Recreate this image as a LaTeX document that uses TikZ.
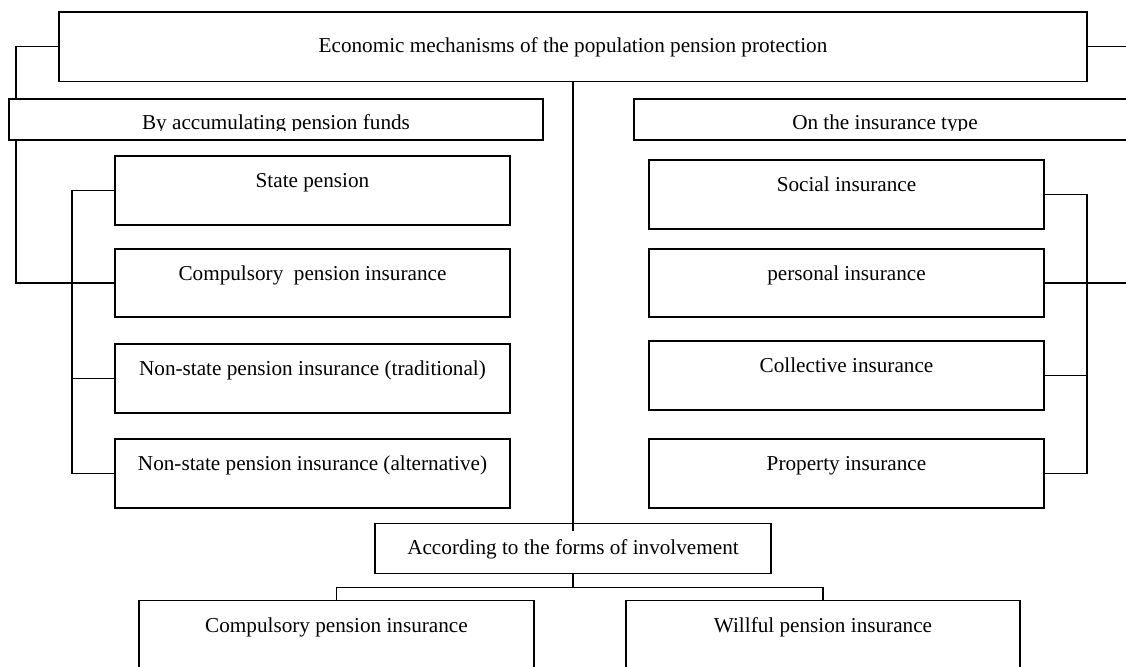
\documentclass[tikz,border=0pt]{standalone}
\usepackage{fontspec}
\setmainfont{Liberation Serif}
\newcommand{\lbfont}{\fontsize{21.2}{25}\selectfont}
\tikzset{
  boxst/.style={draw, line width=1.4pt, fill=white, inner sep=0pt, outer sep=0pt, rectangle},
  lbl/.style={anchor=base, inner sep=0pt, outer sep=0pt, font=\lbfont},
  conn/.style={line width=1.4pt}
}
% name, x1, y1, x2, y2
\newcommand{\mkbox}[5]{\node[boxst, minimum width={(#4-#2)*1pt}, minimum height={(#5-#3)*1pt}] (#1) at ({(#2+#4)/2},{(#3+#5)/2}) {};}
\begin{document}
\begin{tikzpicture}[x=1pt,y=-1pt]
\useasboundingbox (0,0) rectangle (1126,666);
\clip (0,0) rectangle (1126,666);
\fill[white] (0,0) rectangle (1126,666);

% helper coordinates
\coordinate (lx) at (16,0);
\coordinate (bx) at (72,0);
\coordinate (rx) at (1087,0);
\coordinate (redge) at (1132,0);
\coordinate (fy) at (0,587.3);
\coordinate (cend) at (573,531);

% top box
\mkbox{top}{59}{12}{1087}{81.5}
\node[lbl] (ttop) at (573,52.5) {Economic mechanisms of the population pension protection};

% long left connector (drawn before the boxes that cover it)
\mkbox{comp}{115}{249}{510}{317}
\draw[conn] (top.west) -| (lx |- comp.west) -- (comp.west);

% category boxes
\mkbox{acc}{9}{99}{543}{140}
\mkbox{ins}{634}{99}{1136}{140}
\begin{scope}
  \clip (0,99) rectangle (1126,130.5);
  \node[lbl] (tacc) at (276,129) {By accumulating pension funds};
  \node[lbl] (tins) at (885,129) {On the insurance type};
\end{scope}

% left column
\mkbox{state}{115}{156}{510}{225}
\mkbox{trad}{115}{344}{510}{413}
\mkbox{alt}{115}{439}{510}{508}
\node[lbl] (tstate) at (312.5,187.5) {State pension};
\node[lbl] (tcomp) at (312.5,280.5) {Compulsory\ \ pension insurance};
\node[lbl] (ttrad) at (312.5,375.5) {Non-state pension insurance (traditional)};
\node[lbl] (talt) at (312.5,470.5) {Non-state pension insurance (alternative)};

% right column
\mkbox{social}{649}{160}{1044}{229}
\mkbox{pers}{649}{249}{1044}{317}
\mkbox{coll}{649}{341}{1044}{410}
\mkbox{prop}{649}{439}{1044}{508}
\node[lbl] (tsocial) at (846.5,191.5) {Social insurance};
\node[lbl] (tpers) at (846.5,280.5) {personal insurance};
\node[lbl] (tcoll) at (846.5,372.5) {Collective insurance};
\node[lbl] (tprop) at (846.5,470.5) {Property insurance};

% bottom
\mkbox{accord}{375}{523.5}{771}{573.5}
\node[lbl] (taccord) at (573,554) {According to the forms of involvement};
\mkbox{cbot}{139}{600.7}{534}{700}
\mkbox{wbot}{626}{600.7}{1020}{700}
\node[lbl] (tcbot) at (336.5,632) {Compulsory pension insurance};
\node[lbl] (twbot) at (823,632) {Willful pension insurance};

% connectors
\draw[conn] (top.east) -- (redge |- top.east);
\draw[conn] (top.south) -- (cend);

\draw[conn] (state.west) -- (bx |- state.west) -- (bx |- alt.west) -- (alt.west);
\draw[conn] (comp.west) -- (bx |- comp.west);
\draw[conn] (trad.west) -- (bx |- trad.west);

\draw[conn] (social.east) -- (rx |- social.east) -- (rx |- prop.east) -- (prop.east);
\draw[conn] (coll.east) -- (rx |- coll.east);
\draw[conn] (pers.east) -- (redge |- pers.east);

\draw[conn] (accord.south) -- (accord.south |- fy);
\draw[conn] (cbot.north) -- (cbot.north |- fy) -- (wbot.north |- fy) -- (wbot.north);
\end{tikzpicture}
\end{document}
